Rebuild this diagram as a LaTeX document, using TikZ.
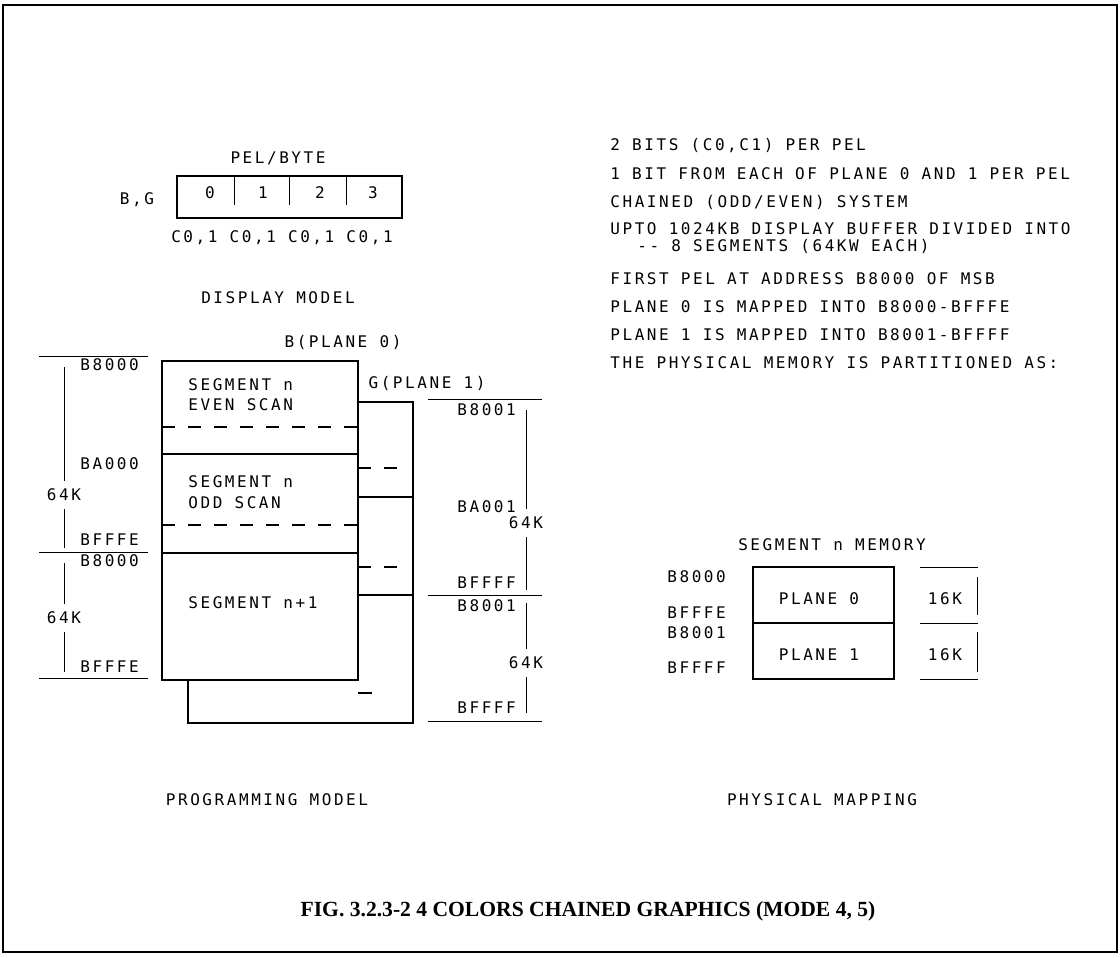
\documentclass[tikz,border=0pt]{standalone}
\usepackage{fontspec}
\newfontfamily\plotfont[LetterSpace=16]{DejaVu Sans Mono}
\newfontfamily\capfont{Liberation Serif}
\usetikzlibrary{positioning}

\begin{document}
\begin{tikzpicture}[
    x=0.5pt, y=-0.5pt,
    lbl/.style={font=\plotfont\fontsize{8}{9}\selectfont, inner sep=0pt},
    note/.style={lbl, anchor=west},
    sizelbl/.style={lbl, inner ysep=4pt},
    outerframe/.style={line width=1pt},
    boxline/.style={line width=0.9pt},
    thinline/.style={line width=0.5pt},
    scanline/.style={line width=0.8pt, dash pattern=on 6.5pt off 6.5pt}
]
\useasboundingbox (0,0) rectangle (1120,958);
\draw[outerframe] (3,5) rectangle (1117,952);

% display model
\node[lbl] (pelbyte) at (278,158) {PEL/BYTE};
\draw[boxline] (177,176) rectangle (402,218);
\foreach \x in {234,289,346}
  \draw[thinline] (\x,176) -- (\x,205);
\foreach \d/\x in {0/210,1/263,2/320,3/373}
  \node[lbl] (pel\d) at (\x,193) {\d};
\node[lbl] (bg) at (137,200) {B,G};
\node[lbl] (colors) at (282,238) {C0,1 C0,1 C0,1 C0,1};
\node[lbl] (dispmodel) at (278,298) {DISPLAY MODEL};

% programming model, plane 1 behind plane 0
\draw[boxline, fill=white] (188,402) rectangle (413,723);
\draw[boxline] (188,497) -- (413,497);
\draw[boxline] (188,595) -- (413,595);
\draw[scanline] (358,468) -- (402,468);
\draw[scanline] (358,567) -- (402,567);
\draw[boxline] (358,693) -- (372,693);
\draw[boxline, fill=white] (162,361) rectangle (358,680);
\draw[boxline] (162,454) -- (358,454);
\draw[boxline] (162,553) -- (358,553);
\draw[scanline] (162,427) -- (358,427);
\draw[scanline] (162,525) -- (358,525);

\node[lbl] (plane0) at (343,342) {B(PLANE 0)};
\node[lbl] (plane1) at (427,383) {G(PLANE 1)};
\node[note] (evenA) at (188,385) {SEGMENT n};
\node[note] (evenB) at (188,405) {EVEN SCAN};
\node[note] (oddA) at (188,482) {SEGMENT n};
\node[note] (oddB) at (188,503) {ODD SCAN};
\node[note] (nextseg) at (188,603) {SEGMENT n+1};

% plane 0 addresses
\foreach \y in {356,552,678}
  \draw[thinline] (39,\y) -- (148,\y);
\node[note] (b0top) at (80,365) {B8000};
\node[note] (b0mid) at (80,464) {BA000};
\node[note] (b0end) at (80,540) {BFFFE};
\node[note] (b1top) at (80,561) {B8000};
\node[note] (b1end) at (80,667) {BFFFE};
\node[sizelbl] (b0size) at (64,495) {64K};
\node[sizelbl] (b1size) at (64,618) {64K};
\draw[thinline] (64,367) -- (b0size.north);
\draw[thinline] (b0size.south) -- (64,548);
\draw[thinline] (64,563) -- (b1size.north);
\draw[thinline] (b1size.south) -- (64,672);

% plane 1 addresses
\foreach \y in {399,595,721}
  \draw[thinline] (428,\y) -- (542,\y);
\node[note] (g0top) at (457,410) {B8001};
\node[note] (g0mid) at (457,507) {BA001};
\node[note] (g0end) at (457,583) {BFFFF};
\node[note] (g1top) at (457,606) {B8001};
\node[note] (g1end) at (457,708) {BFFFF};
\node[sizelbl] (g0size) at (526,523) {64K};
\node[sizelbl] (g1size) at (526,663) {64K};
\draw[thinline] (526,410) -- (g0size.north);
\draw[thinline] (g0size.south) -- (526,590);
\draw[thinline] (526,603) -- (g1size.north);
\draw[thinline] (g1size.south) -- (526,713);

\node[lbl] (progmodel) at (267,800) {PROGRAMMING MODEL};

% notes
\node[note] (bits) at (610,146) {2 BITS (C0,C1) PER PEL};
\node[note] (perbit) at (610,174) {1 BIT FROM EACH OF PLANE 0 AND 1 PER PEL};
\node[note] (chain) at (610,202) {CHAINED (ODD/EVEN) SYSTEM};
\node[note] (upto) at (610,229) {UPTO 1024KB DISPLAY BUFFER DIVIDED INTO};
\node[note] (segs) at (637,246) {-{}- 8 SEGMENTS (64KW EACH)};
\node[note] (first) at (610,279) {FIRST PEL AT ADDRESS B8000 OF MSB};
\node[note] (map0) at (610,307) {PLANE 0 IS MAPPED INTO B8000-BFFFE};
\node[note] (map1) at (610,335) {PLANE 1 IS MAPPED INTO B8001-BFFFF};
\node[note] (part) at (610,363) {THE PHYSICAL MEMORY IS PARTITIONED AS:};

% physical mapping
\node[lbl] (segmem) at (832,545) {SEGMENT n MEMORY};
\draw[boxline] (753,567) rectangle (894,679);
\draw[boxline] (753,623) -- (894,623);
\node[lbl] (phys0) at (819,599) {PLANE 0};
\node[lbl] (phys1) at (819,655) {PLANE 1};
\node[note] (p0top) at (667,577) {B8000};
\node[note] (p0end) at (667,613) {BFFFE};
\node[note] (p1top) at (667,633) {B8001};
\node[note] (p1end) at (667,668) {BFFFF};
\foreach \y in {567,623,679}
  \draw[thinline] (920,\y) -- (978,\y);
\draw[thinline] (977,577) -- (977,615);
\draw[thinline] (977,632) -- (977,672);
\node[lbl] (k0) at (945,599) {16K};
\node[lbl] (k1) at (945,655) {16K};
\node[lbl] (physmap) at (822,800) {PHYSICAL MAPPING};

\node[font=\capfont\bfseries\fontsize{10.8}{13}\selectfont, inner sep=0pt] (caption) at (588,911) {FIG. 3.2.3-2 4 COLORS CHAINED GRAPHICS (MODE 4, 5)};
\end{tikzpicture}
\end{document}
